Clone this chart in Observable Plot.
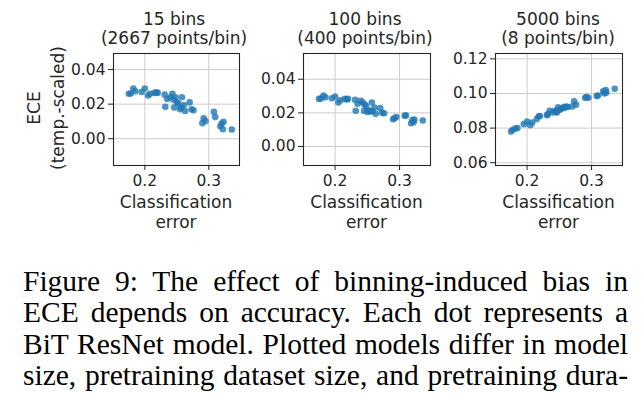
<!DOCTYPE html>
<html>
<head>
<meta charset="utf-8">
<script src="https://cdn.jsdelivr.net/npm/d3@7"></script>
<script src="https://cdn.jsdelivr.net/npm/@observablehq/plot@0.6"></script>
<style>
  html, body { margin: 0; padding: 0; background: #fff; }
  #root { position: relative; width: 644px; height: 393px; overflow: hidden; font-family: "DejaVu Sans", sans-serif; color: #262626; }
  .panel { position: absolute; top: 0; }
  .t { position: absolute; white-space: nowrap; font-size: 17px; line-height: 18px; transform: translateX(-50%); text-align: center; }
  .xl { position: absolute; white-space: nowrap; font-size: 17px; line-height: 20px; transform: translateX(-50%); text-align: center; }
  .ylab { position: absolute; white-space: nowrap; font-size: 17px; line-height: 24px; text-align: center; transform: translate(-50%, -50%) rotate(-90deg); }
  .cap { position: absolute; left: 23px; width: 605px; font-family: "Liberation Serif", "Times New Roman", serif; font-size: 29.5px; color: #000; text-align: justify; text-align-last: justify; white-space: nowrap; line-height: 31px; }
</style>
</head>
<body>
<div id="root"></div>
<script>
// Classification error of each BiT ResNet model (shared by all panels)
const errors = [0.175, 0.178, 0.182, 0.185, 0.195, 0.200, 0.205, 0.208, 0.215, 0.218,
  0.220, 0.231, 0.232, 0.235, 0.240, 0.243, 0.245, 0.246, 0.248, 0.250,
  0.252, 0.255, 0.257, 0.258, 0.261, 0.263, 0.270, 0.273, 0.276, 0.290,
  0.292, 0.295, 0.308, 0.310, 0.318, 0.320, 0.322, 0.323, 0.336];
// ECE (temp.-scaled) with 15 bins
const ece15 = [0.0260, 0.0262, 0.0290, 0.0275, 0.0270, 0.0290, 0.0250, 0.0260, 0.0265, 0.0268,
  0.0265, 0.0255, 0.0185, 0.0230, 0.0240, 0.0260, 0.0225, 0.0180, 0.0240, 0.0210,
  0.0205, 0.0170, 0.0180, 0.0240, 0.0195, 0.0160, 0.0210, 0.0170, 0.0165, 0.0090,
  0.0118, 0.0102, 0.0155, 0.0125, 0.0072, 0.0088, 0.0055, 0.0098, 0.0053];
// ECE with 100 bins
const ece100 = [0.0283, 0.0285, 0.0303, 0.0293, 0.0287, 0.0297, 0.0262, 0.0275, 0.0284, 0.0280,
  0.0283, 0.0278, 0.0212, 0.0254, 0.0272, 0.0262, 0.0213, 0.0250, 0.0240, 0.0205,
  0.0215, 0.0208, 0.0262, 0.0210, 0.0232, 0.0195, 0.0228, 0.0200, 0.0198, 0.0162,
  0.0168, 0.0175, 0.0183, 0.0185, 0.0138, 0.0158, 0.0145, 0.0160, 0.0155];
// ECE with 5000 bins
const ece5000 = [0.0781, 0.0790, 0.0798, 0.0800, 0.0823, 0.0838, 0.0817, 0.0832, 0.0852, 0.0868,
  0.0870, 0.0875, 0.0880, 0.0900, 0.0890, 0.0900, 0.0893, 0.0890, 0.0920, 0.0905,
  0.0910, 0.0915, 0.0922, 0.0918, 0.0925, 0.0922, 0.0925, 0.0955, 0.0935, 0.0975,
  0.0980, 0.0975, 0.0985, 0.0988, 0.1012, 0.1000, 0.1020, 0.1005, 0.1027];

const titles = [["15 bins", "(2667 points/bin)"], ["100 bins", "(400 points/bin)"], ["5000 bins", "(8 points/bin)"]];
const xTicks = [0.2, 0.3];
const yTicksLow = [0.00, 0.02, 0.04];
const yTicksHigh = [0.06, 0.08, 0.10, 0.12];
const xLabel = ["Classification", "error"];
const yLabel = ["ECE", "(temp.-scaled)"];
const captionLines = [
  "Figure 9:  The effect of binning-induced bias in",
  "ECE depends on accuracy. Each dot represents a",
  "BiT ResNet model. Plotted models differ in model",
  "size, pretraining dataset size, and pretraining dura-"
];

const series = [ece15, ece100, ece5000];
const layout = [
  {left: 0, width: 250, frameL: 113, frameR: 239, yDomain: [-0.0155, 0.0493], yTicks: yTicksLow, titleX: 174},
  {left: 240, width: 196, frameL: 303, frameR: 430, yDomain: [-0.0113, 0.0553], yTicks: yTicksLow, titleX: 365},
  {left: 432, width: 212, frameL: 495, frameR: 622, yDomain: [0.0584, 0.1231], yTicks: yTicksHigh, titleX: 558}
];
const frameTop = 53, frameBottom = 165, H = 235;
const ink = "#262626";
const root = document.getElementById("root");

layout.forEach((L, i) => {
  const data = errors.map((e, j) => ({e, v: series[i][j]}));
  const svg = Plot.plot({
    width: L.width,
    height: H,
    marginLeft: L.frameL - L.left,
    marginRight: L.left + L.width - L.frameR,
    marginTop: frameTop,
    marginBottom: H - frameBottom,
    style: {fontFamily: "DejaVu Sans, sans-serif", fontSize: "15.5px", color: ink, background: "transparent", overflow: "visible"},
    x: {domain: [0.151, 0.348], ticks: xTicks, tickFormat: d3.format(".1f"), label: null, tickSize: 5, tickPadding: 4},
    y: {domain: L.yDomain, ticks: L.yTicks, tickFormat: d3.format(".2f"), label: null, tickSize: 5, tickPadding: 3},
    marks: [
      Plot.gridX(xTicks, {stroke: "#cccccc", strokeOpacity: 1, strokeWidth: 1}),
      Plot.gridY(L.yTicks, {stroke: "#cccccc", strokeOpacity: 1, strokeWidth: 1}),
      Plot.dot(data, {x: "e", y: "v", r: 3.3, fill: "#1f77b4", fillOpacity: 0.8, stroke: "none"}),
      Plot.frame({stroke: ink, strokeWidth: 1.1}),
      Plot.axisX({ticks: xTicks, tickFormat: d3.format(".1f"), tickSize: 5, tickPadding: 4, label: null, fill: ink, stroke: ink}),
      Plot.axisY({ticks: L.yTicks, tickFormat: d3.format(".2f"), tickSize: 5, tickPadding: 3, label: null, fill: ink, stroke: ink})
    ]
  });
  svg.classList.add("panel");
  svg.style.left = L.left + "px";
  root.appendChild(svg);

  const cx = (L.frameL + L.frameR) / 2;
  const t1 = document.createElement("div");
  t1.className = "t"; t1.style.left = L.titleX + "px"; t1.style.top = "10px"; t1.textContent = titles[i][0];
  const t2 = document.createElement("div");
  t2.className = "t"; t2.style.left = L.titleX + "px"; t2.style.top = "29px"; t2.textContent = titles[i][1];
  const xl = document.createElement("div");
  xl.className = "xl"; xl.style.left = cx + "px"; xl.style.top = "192px";
  xl.innerHTML = xLabel[0] + "<br>" + xLabel[1];
  [t1, t2, xl].forEach(d => root.appendChild(d));
});

const yl = document.createElement("div");
yl.className = "ylab";
yl.style.left = "46px"; yl.style.top = "108px";
yl.innerHTML = yLabel[0] + "<br>" + yLabel[1];
root.appendChild(yl);

captionLines.forEach((line, k) => {
  const c = document.createElement("div");
  c.className = "cap";
  c.style.top = (266 + k * 31.3) + "px";
  c.textContent = line;
  root.appendChild(c);
});
</script>
</body>
</html>
